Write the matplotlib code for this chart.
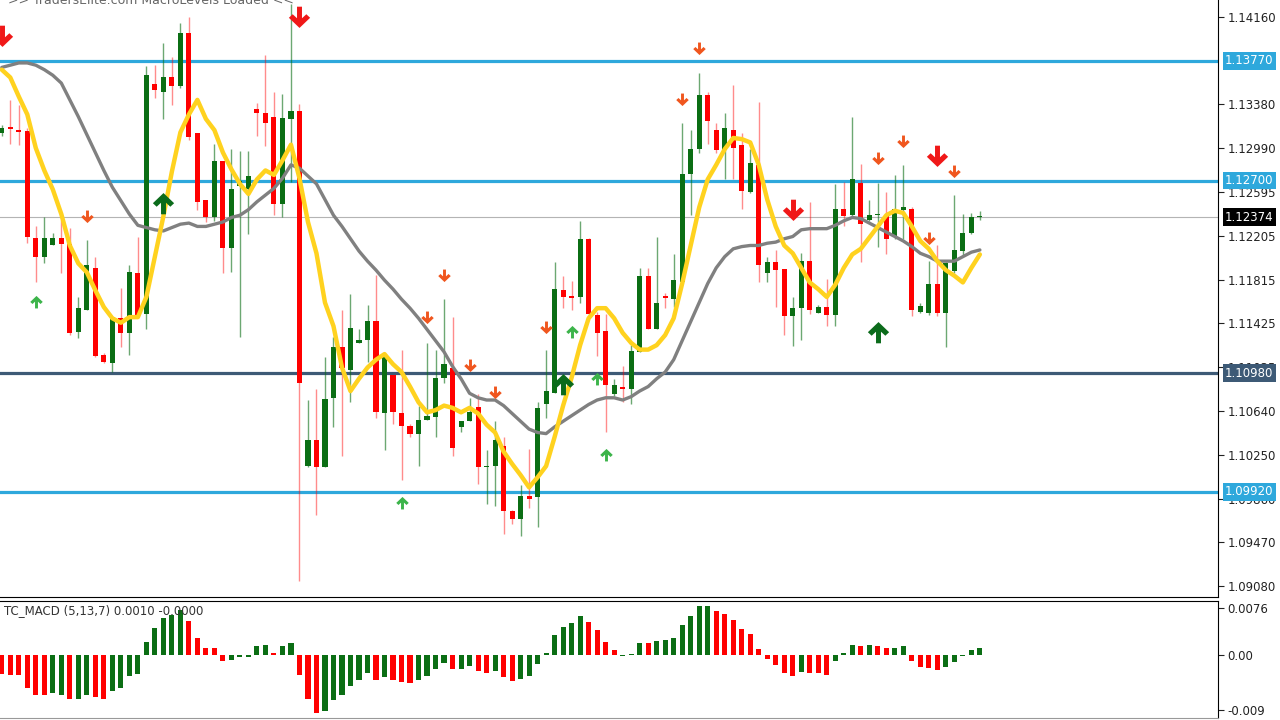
import numpy as np
import matplotlib
matplotlib.use("Agg")
import matplotlib.pyplot as plt
from matplotlib.path import Path

# ---- candles (EURUSD-like, one per bar) ----
opens = [1.1312, 1.1318, 1.1315, 1.1314, 1.1219, 1.1202, 1.1212, 1.1219, 1.1213, 1.1135,
         1.1154, 1.1192, 1.1114, 1.1107, 1.1147, 1.1134, 1.1187, 1.1151, 1.1356, 1.1349,
         1.1362, 1.1354, 1.1402, 1.1312, 1.1253, 1.1237, 1.1287, 1.1210, 1.1265, 1.1262,
         1.1334, 1.1330, 1.1327, 1.1249, 1.1325, 1.1332, 1.1015, 1.1038, 1.1014, 1.1076,
         1.1121, 1.1101, 1.1125, 1.1128, 1.1145, 1.1062, 1.1096, 1.1062, 1.1051, 1.1044,
         1.1056, 1.1059, 1.1094, 1.1103, 1.1050, 1.1055, 1.1068, 1.1014, 1.1015, 1.1033,
         1.0975, 1.0968, 1.0988, 1.0987, 1.1070, 1.1080, 1.1172, 1.1167, 1.1166, 1.1218,
         1.1150, 1.1136, 1.1079, 1.1086, 1.1084, 1.1117, 1.1185, 1.1137, 1.1167, 1.1164,
         1.1179, 1.1276, 1.1298, 1.1346, 1.1315, 1.1297, 1.1315, 1.1302, 1.1260, 1.1284,
         1.1187, 1.1197, 1.1191, 1.1149, 1.1156, 1.1198, 1.1152, 1.1157, 1.1150, 1.1245,
         1.1239, 1.1268, 1.1235, 1.1239, 1.1239, 1.1220, 1.1244, 1.1245, 1.1153, 1.1152,
         1.1178, 1.1152, 1.1189, 1.1207, 1.1223, 1.1237]
highs = [1.1320, 1.1342, 1.1337, 1.1317, 1.1229, 1.1237, 1.1223, 1.1235, 1.1228, 1.1166,
         1.1217, 1.1202, 1.1116, 1.1148, 1.1174, 1.1195, 1.1220, 1.1372, 1.1373, 1.1393,
         1.1380, 1.1411, 1.1416, 1.1312, 1.1253, 1.1303, 1.1287, 1.1298, 1.1296, 1.1296,
         1.1339, 1.1382, 1.1349, 1.1347, 1.1428, 1.1338, 1.1074, 1.1084, 1.1112, 1.1130,
         1.1154, 1.1169, 1.1137, 1.1159, 1.1186, 1.1112, 1.1096, 1.1119, 1.1053, 1.1069,
         1.1125, 1.1119, 1.1164, 1.1148, 1.1055, 1.1076, 1.1079, 1.1029, 1.1055, 1.1041,
         1.0976, 1.0998, 1.1030, 1.1072, 1.1119, 1.1197, 1.1185, 1.1180, 1.1234, 1.1219,
         1.1153, 1.1151, 1.1093, 1.1104, 1.1123, 1.1192, 1.1192, 1.1220, 1.1170, 1.1204,
         1.1321, 1.1315, 1.1366, 1.1349, 1.1321, 1.1330, 1.1355, 1.1312, 1.1298, 1.1340,
         1.1202, 1.1208, 1.1191, 1.1166, 1.1205, 1.1251, 1.1159, 1.1182, 1.1267, 1.1269,
         1.1327, 1.1285, 1.1253, 1.1268, 1.1260, 1.1275, 1.1284, 1.1246, 1.1161, 1.1198,
         1.1212, 1.1197, 1.1257, 1.1240, 1.1241, 1.1243]
lows = [1.1310, 1.1303, 1.1302, 1.1214, 1.1179, 1.1196, 1.1212, 1.1187, 1.1132, 1.1129,
        1.1154, 1.1112, 1.1107, 1.1099, 1.1121, 1.1114, 1.1148, 1.1137, 1.1344, 1.1325,
        1.1337, 1.1353, 1.1306, 1.1244, 1.1233, 1.1234, 1.1187, 1.1188, 1.1130, 1.1222,
        1.1310, 1.1301, 1.1239, 1.1237, 1.1269, 1.0912, 1.1014, 1.0971, 1.1014, 1.1050,
        1.1024, 1.1072, 1.1125, 1.1108, 1.1058, 1.1029, 1.1053, 1.1003, 1.1041, 1.1015,
        1.1056, 1.1041, 1.1089, 1.1024, 1.1045, 1.1055, 1.0999, 1.0981, 1.0979, 1.0954,
        1.0963, 1.0953, 1.0978, 1.0961, 1.1058, 1.1080, 1.1156, 1.1154, 1.1161, 1.1149,
        1.1113, 1.1045, 1.1078, 1.1072, 1.1070, 1.1117, 1.1137, 1.1137, 1.1156, 1.1157,
        1.1178, 1.1239, 1.1295, 1.1303, 1.1295, 1.1271, 1.1271, 1.1245, 1.1259, 1.1179,
        1.1179, 1.1157, 1.1132, 1.1122, 1.1128, 1.1151, 1.1152, 1.1140, 1.1140, 1.1229,
        1.1238, 1.1197, 1.1234, 1.1211, 1.1204, 1.1218, 1.1218, 1.1149, 1.1152, 1.1150,
        1.1149, 1.1121, 1.1187, 1.1203, 1.1222, 1.1235]
closes = [1.1317, 1.1316, 1.1313, 1.1220, 1.1202, 1.1219, 1.1219, 1.1213, 1.1134, 1.1156,
          1.1195, 1.1113, 1.1108, 1.1148, 1.1134, 1.1188, 1.1150, 1.1364, 1.1351, 1.1362,
          1.1354, 1.1402, 1.1309, 1.1251, 1.1237, 1.1287, 1.1210, 1.1262, 1.1270, 1.1274,
          1.1330, 1.1321, 1.1249, 1.1326, 1.1332, 1.1089, 1.1038, 1.1014, 1.1075, 1.1121,
          1.1103, 1.1138, 1.1128, 1.1145, 1.1063, 1.1112, 1.1063, 1.1051, 1.1044, 1.1056,
          1.1060, 1.1094, 1.1106, 1.1031, 1.1055, 1.1063, 1.1014, 1.1015, 1.1038, 1.0975,
          1.0968, 1.0988, 1.0986, 1.1067, 1.1082, 1.1173, 1.1166, 1.1165, 1.1218, 1.1151,
          1.1134, 1.1087, 1.1087, 1.1084, 1.1118, 1.1185, 1.1137, 1.1161, 1.1165, 1.1181,
          1.1276, 1.1298, 1.1346, 1.1323, 1.1297, 1.1317, 1.1299, 1.1261, 1.1286, 1.1195,
          1.1197, 1.1190, 1.1149, 1.1156, 1.1198, 1.1154, 1.1157, 1.1150, 1.1245, 1.1238,
          1.1271, 1.1231, 1.1239, 1.1240, 1.1218, 1.1245, 1.1246, 1.1154, 1.1158, 1.1178,
          1.1152, 1.1196, 1.1208, 1.1223, 1.1237, 1.12374]

# ---- moving averages ----
ma_fast = [1.1369, 1.1362, 1.1345, 1.1329, 1.1299, 1.1279, 1.1262, 1.1240, 1.1212, 1.1196,
           1.1188, 1.1172, 1.1157, 1.1147, 1.1143, 1.1148, 1.1148, 1.1166, 1.1202, 1.1238,
           1.1278, 1.1313, 1.1329, 1.1342, 1.1325, 1.1315, 1.1295, 1.1280, 1.1267, 1.1258,
           1.1271, 1.1279, 1.1275, 1.1288, 1.1302, 1.1272, 1.1233, 1.1205, 1.1161, 1.1140,
           1.1103, 1.1082, 1.1093, 1.1103, 1.1110, 1.1115, 1.1106, 1.1099, 1.1086, 1.1072,
           1.1063, 1.1065, 1.1069, 1.1067, 1.1063, 1.1067, 1.1062, 1.1052, 1.1045, 1.1028,
           1.1017, 1.1007, 1.0996, 1.1005, 1.1015, 1.1041, 1.1069, 1.1094, 1.1123, 1.1147,
           1.1156, 1.1156, 1.1147, 1.1134, 1.1125, 1.1119, 1.1119, 1.1123, 1.1132, 1.1147,
           1.1178, 1.1212, 1.1246, 1.1271, 1.1284, 1.1298, 1.1308, 1.1307, 1.1304, 1.1284,
           1.1253, 1.1229, 1.1212, 1.1205, 1.1192, 1.1179, 1.1173, 1.1166, 1.1177, 1.1192,
           1.1204, 1.1209, 1.1219, 1.1229, 1.1239, 1.1243, 1.1241, 1.1229, 1.1216, 1.1209,
           1.1198, 1.1190, 1.1185, 1.1179, 1.1192, 1.1204]
ma_slow = [1.1371, 1.1373, 1.1375, 1.1375, 1.1373, 1.1369, 1.1364, 1.1357, 1.1342, 1.1327,
           1.1311, 1.1295, 1.1279, 1.1264, 1.1252, 1.1240, 1.1230, 1.1228, 1.1226, 1.1225,
           1.1228, 1.1231, 1.1232, 1.1229, 1.1229, 1.1231, 1.1233, 1.1237, 1.1239, 1.1244,
           1.1251, 1.1257, 1.1263, 1.1272, 1.1284, 1.1281, 1.1274, 1.1267, 1.1253, 1.1239,
           1.1229, 1.1218, 1.1207, 1.1198, 1.1190, 1.1181, 1.1173, 1.1164, 1.1156, 1.1147,
           1.1137, 1.1127, 1.1117, 1.1104, 1.1093, 1.1080, 1.1076, 1.1074, 1.1074, 1.1069,
           1.1062, 1.1055, 1.1048, 1.1045, 1.1044, 1.1050, 1.1055, 1.1060, 1.1065, 1.1070,
           1.1074, 1.1076, 1.1076, 1.1074, 1.1077, 1.1082, 1.1086, 1.1093, 1.1099, 1.1110,
           1.1127, 1.1144, 1.1161, 1.1178, 1.1192, 1.1202, 1.1209, 1.1211, 1.1212, 1.1212,
           1.1214, 1.1215, 1.1218, 1.1220, 1.1226, 1.1227, 1.1227, 1.1227, 1.1230, 1.1234,
           1.1237, 1.1236, 1.1232, 1.1228, 1.1224, 1.1220, 1.1216, 1.1211, 1.1205, 1.1202,
           1.1198, 1.1198, 1.1198, 1.1202, 1.1206, 1.1208]

# ---- level lines (price, colour) ----
level_prices = [1.13770, 1.12700, 1.10980, 1.09920]
level_colors = ["#2ea8dc", "#2ea8dc", "#3d5a76", "#2ea8dc"]
current_price = 1.12374

price_ticks = [1.14160, 1.13380, 1.12990, 1.12595, 1.12205, 1.11815, 1.11425,
               1.11035, 1.10640, 1.10250, 1.09860, 1.09470, 1.09080]

# ---- signal arrows ----
arrow_idx = [0, 10, 4, 19, 35, 52, 50, 55, 58, 64, 80, 82,
             47, 67, 70, 71, 66, 93, 103, 106, 110, 112, 109, 103]
arrow_price = [1.1398, 1.1237, 1.1162, 1.1251, 1.1415, 1.1185, 1.1147, 1.1104, 1.1080, 1.1138,
               1.1342, 1.1387, 1.0983, 1.1136, 1.1094, 1.1026, 1.1089, 1.1243, 1.1289, 1.1304,
               1.1291, 1.1278, 1.1218, 1.1136]
arrow_kind = ["bd", "sd", "su", "bu", "bd", "sd", "sd", "sd", "sd", "sd", "sd", "sd",
              "su", "su", "su", "su", "bu", "bd", "sd", "sd", "bd", "sd", "sd", "bu"]

# ---- TC_MACD histogram ----
macd_hist = [-0.0031, -0.0033, -0.0033, -0.0053, -0.0065, -0.0065, -0.0062, -0.0065, -0.0072, -0.0071,
             -0.0065, -0.0068, -0.0071, -0.0059, -0.0053, -0.0035, -0.0031, 0.0021, 0.0044, 0.0060,
             0.0065, 0.0073, 0.0055, 0.0028, 0.0011, 0.0011, -0.0010, -0.0008, -0.0004, -0.0003,
             0.0014, 0.0017, 0.0004, 0.0014, 0.0020, -0.0033, -0.0071, -0.0095, -0.0092, -0.0073,
             -0.0065, -0.0051, -0.0041, -0.0029, -0.0041, -0.0036, -0.0041, -0.0044, -0.0045, -0.0041,
             -0.0035, -0.0023, -0.0013, -0.0023, -0.0023, -0.0018, -0.0026, -0.0030, -0.0026, -0.0036,
             -0.0042, -0.0039, -0.0035, -0.0014, 0.0004, 0.0033, 0.0046, 0.0052, 0.0064, 0.0053,
             0.0041, 0.0021, 0.0008, -0.0001, 0.0002, 0.0020, 0.0019, 0.0022, 0.0024, 0.0027,
             0.0049, 0.0064, 0.0080, 0.0080, 0.0071, 0.0067, 0.0057, 0.0042, 0.0034, 0.0010,
             -0.0007, -0.0016, -0.0029, -0.0035, -0.0027, -0.0030, -0.0030, -0.0033, -0.0009, 0.0004,
             0.0017, 0.0015, 0.0017, 0.0015, 0.0011, 0.0011, 0.0014, -0.0009, -0.0019, -0.0021,
             -0.0024, -0.0019, -0.0011, -0.0001, 0.0008, 0.0012]
macd_dir = ("RRRRRRGGRG" "GRRGGGGGGG" "GGRRRRRGGG" "GGRGGRRRGG" "GGGGRGRRRG"
            "GGGRGGRRGR" "RGGGGGGGGR" "RRRGGGRGGG" "GGGGRRRRRR" "RRRRGRRRGG"
            "GRGRRGGRRR" "RGGGGG")

GREEN = "#0b6e14"
RED = "#ff0000"


def arrow_path(up):
    # thick stem with a broad chevron head (MT4 wingdings style)
    v = [(-0.21, 1.0), (0.21, 1.0), (0.21, 0.02), (0.58, 0.36), (0.9, 0.06),
         (0.0, -0.8), (-0.9, 0.06), (-0.58, 0.36), (-0.21, 0.02), (-0.21, 1.0)]
    if up:
        v = [(x, -y) for x, y in v]
    return Path(v, closed=True)


ARROW_STYLE = {
    "bd": (arrow_path(False), "#f01818", 17),
    "bu": (arrow_path(True), "#0b6b1b", 17),
    "sd": (arrow_path(False), "#f0561e", 10),
    "su": (arrow_path(True), "#3cb44a", 10),
}

x = np.arange(len(opens))
o, h, l, c = map(np.array, (opens, highs, lows, closes))
up = c >= o
body_col = np.where(up, GREEN, RED)
wick_col = [(0.04, 0.43, 0.08, 0.6) if u else (1.0, 0.0, 0.0, 0.45) for u in up]

fig = plt.figure(figsize=(12.8, 7.2), dpi=100)
ax = fig.add_axes([0, 1 - 597 / 720, 1218 / 1280, 597 / 720])
axm = fig.add_axes([0, 2 / 720, 1218 / 1280, 117 / 720])

# main price panel
ax.axhline(current_price, color="#b4b4b4", lw=0.8, zorder=1)
for p, col in zip(level_prices, level_colors):
    ax.axhline(p, color=col, lw=2.3, zorder=1.5)

ax.vlines(x, l, h, colors=wick_col, linewidth=1.0, zorder=2)
ax.bar(x, np.maximum(np.abs(c - o), 0.00012), bottom=np.minimum(o, c), width=0.6,
       color=body_col, linewidth=0, zorder=3)

ax.plot(x, ma_slow, color="#808080", lw=2.4, zorder=4, solid_capstyle="round")
ax.plot(x, ma_fast, color="#ffd21f", lw=3.2, zorder=5, solid_capstyle="round")

for i, p, k in zip(arrow_idx, arrow_price, arrow_kind):
    path, col, ms = ARROW_STYLE[k]
    ax.plot(i, p, marker=path, markersize=ms, color=col, markeredgewidth=0,
            linestyle="none", zorder=6)

ax.set_xlim(-0.21, 143.0)
ax.set_ylim(1.08981, 1.14312)
ax.set_xticks([])
ax.yaxis.tick_right()
ax.set_yticks(price_ticks)
ax.set_yticklabels([f"{t:.5f}" for t in price_ticks])
ax.tick_params(axis="y", length=4, pad=3, labelsize=8.5, colors="#222222")
for s in ("left", "top"):
    ax.spines[s].set_visible(False)
ax.spines["right"].set_color("black")
ax.spines["bottom"].set_color("black")

for p, col in zip(level_prices + [current_price], level_colors + ["black"]):
    ax.annotate(f"{p:.5f}", xy=(1.0, p), xycoords=("axes fraction", "data"),
                xytext=(5, 0), textcoords="offset points", ha="left", va="center",
                fontsize=8.5, color="white", zorder=10, annotation_clip=False,
                bbox=dict(boxstyle="square,pad=0.2", fc=col, ec="none"))

fig.text(8 / 1280, 1.0, ">> TradersElite.com MacroLevels Loaded <<", va="center",
         ha="left", fontsize=9, color="#666666")

# MACD panel
axm.bar(x, macd_hist, width=0.6, color=[GREEN if d == "G" else RED for d in macd_dir],
        linewidth=0)
axm.set_xlim(-0.21, 143.0)
axm.set_ylim(-0.01027, 0.0088)
axm.set_xticks([])
axm.yaxis.tick_right()
axm.set_yticks([0.0076, 0.0, -0.009])
axm.set_yticklabels(["0.0076", "0.00", "-0.009"])
axm.tick_params(axis="y", length=4, pad=3, labelsize=8.5, colors="#222222")
axm.spines["left"].set_visible(False)
axm.spines["bottom"].set_color("#999999")
axm.text(0.003, 0.97, "TC_MACD (5,13,7) 0.0010 -0.0000", transform=axm.transAxes,
         va="top", ha="left", fontsize=8.5, color="#333333")

fig.savefig("out.png", dpi=100)
